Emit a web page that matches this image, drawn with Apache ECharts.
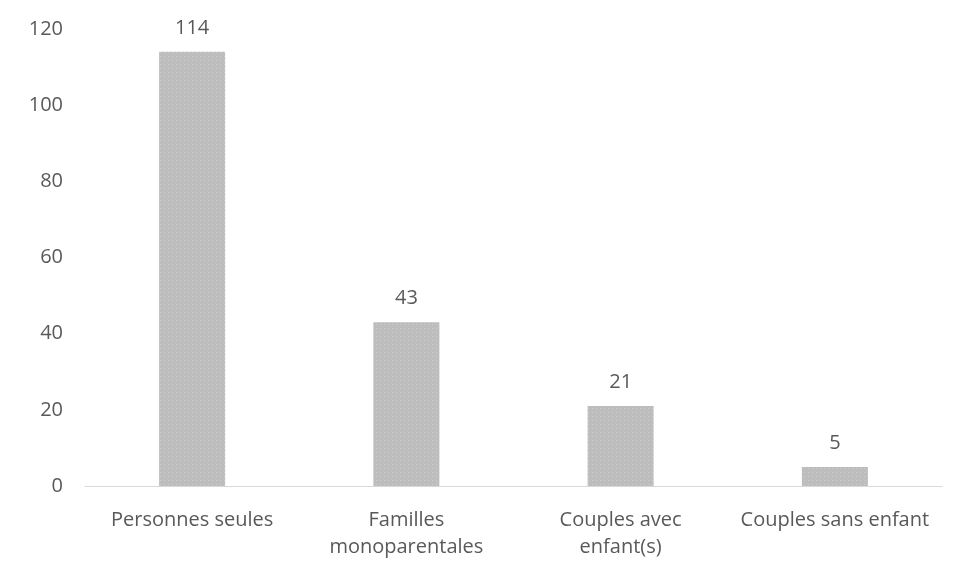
<!DOCTYPE html>
<html>
<head>
<meta charset="utf-8">
<script src="https://cdn.jsdelivr.net/npm/echarts@6/dist/echarts.min.js"></script>
<style>
  html, body { margin: 0; padding: 0; background: #ffffff; }
  #chart { width: 953px; height: 569px; }
</style>
</head>
<body>
<div id="chart"></div>
<script>
// Household types and counts
const categories = ['Personnes seules', 'Familles\nmonoparentales', 'Couples avec\nenfant(s)', 'Couples sans enfant'];
const counts = [114, 43, 21, 5];
const yTicks = { min: 0, max: 120, interval: 20 };

const textColor = '#595959';
const fontFamily = '"Open Sans", "Noto Sans", sans-serif';

const chart = echarts.init(document.getElementById('chart'), null, { renderer: 'canvas' });
chart.setOption({
  animation: false,
  backgroundColor: '#ffffff',
  grid: { left: 85, right: 11, top: 29, bottom: 83, containLabel: false },
  xAxis: {
    type: 'category',
    data: categories,
    axisLine: { show: true, lineStyle: { color: '#d9d9d9', width: 1 } },
    axisTick: { show: false },
    axisLabel: {
      color: textColor,
      fontFamily: fontFamily,
      fontSize: 20,
      lineHeight: 27,
      margin: 21,
      interval: 0
    }
  },
  yAxis: {
    type: 'value',
    min: yTicks.min,
    max: yTicks.max,
    interval: yTicks.interval,
    axisLine: { show: false },
    axisTick: { show: false },
    splitLine: { show: false },
    axisLabel: {
      color: textColor,
      fontFamily: fontFamily,
      fontSize: 20,
      margin: 22
    }
  },
  series: [{
    type: 'bar',
    data: counts,
    barWidth: 66,
    itemStyle: {
      color: '#bdbdbd',
      decal: {
        symbol: 'rect',
        symbolSize: 1,
        color: 'rgba(255,255,255,0.25)',
        dashArrayX: [1, 3],
        dashArrayY: [1, 3],
        rotation: 0
      }
    },
    label: {
      show: true,
      position: 'top',
      distance: 14,
      color: textColor,
      fontFamily: fontFamily,
      fontSize: 20
    }
  }]
});
</script>
</body>
</html>
